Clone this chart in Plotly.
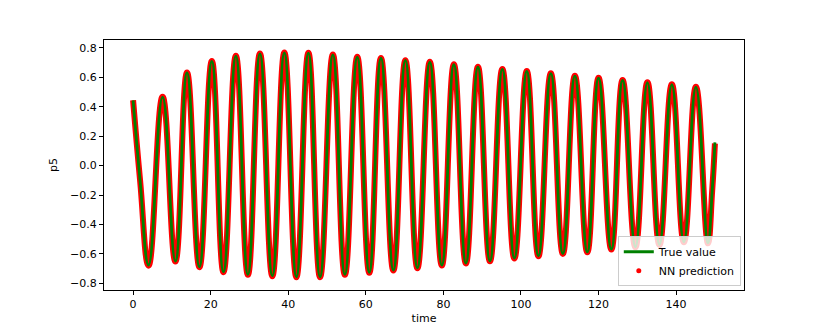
import plotly.graph_objects as go

# turning points of p5 (time, value)
time_pts = [0.0, 1.8, 4.0, 7.6, 10.9, 13.9, 17.1, 20.3, 23.3, 26.5, 29.6, 32.7, 35.9,
            39.0, 42.1, 45.2, 48.2, 51.5, 54.6, 57.8, 60.9, 63.9, 67.1, 70.2,
            73.3, 76.5, 79.6, 82.7, 85.8, 88.9, 92.0, 95.2, 98.3, 101.5, 104.5,
            107.7, 110.8, 113.9, 117.1, 120.0, 123.3, 126.2, 129.5, 132.6,
            135.7, 138.9, 142.0, 145.1, 148.2, 149.3, 150.0]
p5_true = [0.443, -0.10, -0.676, 0.465, -0.649, 0.630, -0.687, 0.707, -0.721, 0.743,
           -0.739, 0.759, -0.748, 0.766, -0.755, 0.764, -0.755, 0.752, -0.739,
           0.736, -0.725, 0.729, -0.710, 0.714, -0.694, 0.702, -0.676, 0.685,
           -0.662, 0.668, -0.647, 0.653, -0.628, 0.639, -0.613, 0.624, -0.597,
           0.608, -0.586, 0.594, -0.567, 0.578, -0.552, 0.563, -0.536, 0.549,
           -0.518, 0.533, -0.525, -0.17, 0.158]
p5_pred = [0.443, -0.10, -0.680, 0.468, -0.652, 0.632, -0.690, 0.710, -0.724, 0.746,
           -0.742, 0.762, -0.751, 0.768, -0.758, 0.766, -0.758, 0.755, -0.742,
           0.739, -0.728, 0.731, -0.713, 0.716, -0.697, 0.705, -0.679, 0.688,
           -0.665, 0.671, -0.650, 0.656, -0.631, 0.642, -0.616, 0.627, -0.600,
           0.611, -0.589, 0.597, -0.570, 0.581, -0.555, 0.566, -0.539, 0.552,
           -0.521, 0.536, -0.528, -0.17, 0.150]

x_ticks = [0, 20, 40, 60, 80, 100, 120, 140]
y_ticks = [-0.8, -0.6, -0.4, -0.2, 0.0, 0.2, 0.4, 0.6, 0.8]

fnt = {"family": "DejaVu Sans", "size": 11, "color": "black"}

fig = go.Figure()
# prediction dots are so dense they read as a thick red band
fig.add_trace(go.Scatter(x=time_pts, y=p5_pred, mode="lines", showlegend=False,
                         line={"color": "red", "width": 6, "shape": "spline", "smoothing": 1.3},
                         hoverinfo="skip"))
fig.add_trace(go.Scatter(x=time_pts, y=p5_true, mode="lines", name="True value",
                         line={"color": "green", "width": 2.8, "shape": "spline", "smoothing": 1.3}))
# legend-only entry for the prediction markers
fig.add_trace(go.Scatter(x=[None], y=[None], mode="markers", name="NN prediction",
                         marker={"color": "red", "size": 5}))

axis_common = dict(showline=True, linecolor="black", linewidth=1, mirror=True,
                   ticks="outside", ticklen=4, tickcolor="black", showgrid=False,
                   zeroline=False, tickfont=fnt, automargin=False)

# page body adds an 8px offset, so the figure is a bit smaller than the window
fig.update_layout(
    width=822, height=324,
    margin={"l": 96, "r": 86, "t": 32, "b": 42},
    paper_bgcolor="white", plot_bgcolor="white",
    font=fnt,
    xaxis=dict(axis_common, range=[-7.5, 157.5], tickvals=x_ticks,
               title={"text": "time", "font": fnt, "standoff": 4}),
    yaxis=dict(axis_common, range=[-0.845, 0.853], tickvals=y_ticks, tickformat=".1f",
               title={"text": "p5", "font": fnt, "standoff": 10}),
    legend={"x": 0.995, "y": 0.015, "xanchor": "right", "yanchor": "bottom",
            "bgcolor": "rgba(255,255,255,0.8)", "bordercolor": "#cccccc", "borderwidth": 1,
            "font": fnt, "tracegroupgap": 0, "itemwidth": 30},
)

fig.write_html("out.html")
